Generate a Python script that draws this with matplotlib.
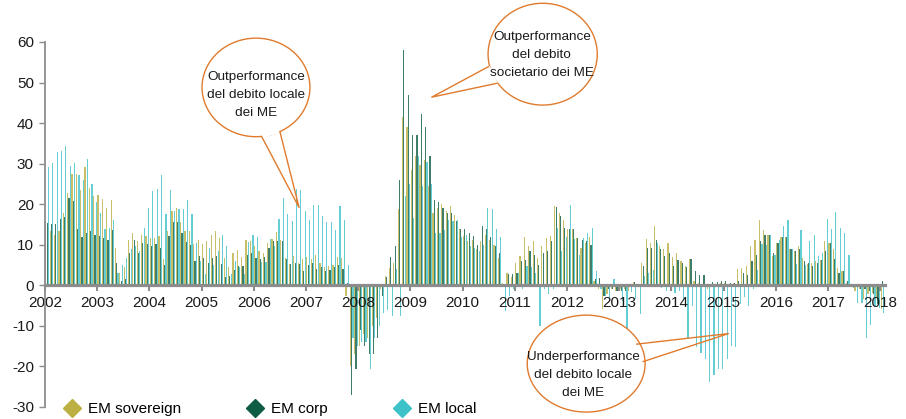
import numpy as np
import matplotlib
matplotlib.use("Agg")
import matplotlib.pyplot as plt
from matplotlib.patches import Ellipse
from matplotlib.lines import Line2D

plt.rcParams['font.family'] = ['Liberation Sans', 'DejaVu Sans']
plt.rcParams['axes.unicode_minus'] = False

# monthly values, Jan 2002 .. Jan 2018 (one row per year)
em_sovereign = [
    15.4, 13.4, 12.5, 13.4, 17.9, 22.8, 27.5, 27.5, 23.4, 29.3, 24.0, 22.0,   # 2002
    22.2, 21.4, 19.1, 21.1, 9.3, 3.1, 4.6, 11.3, 13.0, 10.9, 12.5, 12.1,      # 2003
    11.7, 11.7, 12.1, 6.5, 13.5, 18.4, 19.1, 15.5, 13.4, 13.4, 10.1, 11.1,    # 2004
    10.1, 10.9, 12.5, 13.4, 11.7, 6.8, 4.6, 7.9, 8.6, 7.0, 11.3, 10.9,        # 2005
    9.8, 8.4, 7.9, 10.5, 11.5, 13.1, 11.3, 6.8, 5.2, 7.2, 5.6, 6.4,           # 2006
    7.0, 6.5, 7.5, 5.5, 4.5, 4.7, 4.9, 7.0, 6.7, -2.6, -20.0, -17.0,          # 2007
    -15.0, -12.0, -13.0, -10.0, -8.0, -1.0, 2.3, 4.3, 5.6, 18.7, 41.6, 39.0,  # 2008
    28.5, 31.8, 29.7, 31.0, 24.4, 17.9, 19.0, 20.0, 18.3, 19.5, 17.4, 13.8,   # 2009
    12.1, 11.0, 11.3, 9.0, 11.0, 12.5, 11.3, 10.0, 6.8, 0.6, 3.1, 2.0,        # 2010
    5.6, 7.2, 12.0, 9.7, 10.9, 6.8, 9.7, 11.7, 12.1, 19.5, 17.9, 16.2,        # 2011
    14.0, 13.8, 11.7, 9.3, 10.5, 12.0, 1.0, -1.0, -5.9, -2.2, -1.0, -1.4,     # 2012
    -1.0, -1.0, -1.4, 0.7, -0.5, 5.6, 11.5, 10.5, 14.6, 9.7, 9.0, 10.5,       # 2013
    7.0, 8.0, 6.0, 4.8, 6.4, 1.0, 0.5, -0.5, -1.0, -0.5, 0.0, 0.5,            # 2014
    0.5, 0.0, 0.5, 4.1, 4.3, 4.8, 9.7, 11.3, 16.2, 13.6, 12.5, 7.2,           # 2015
    10.5, 12.0, 12.0, 9.0, 8.4, 9.7, 6.8, 5.2, 5.6, 6.0, 6.2, 10.9,           # 2016
    10.5, 8.9, 4.3, 3.5, 0.5, -0.5, -1.4, -1.0, -3.4, -2.2, -1.8, -3.0,       # 2017
    -5.9,                                                                      # 2018
]
em_corp = [
    15.4, 15.2, 15.0, 16.4, 16.9, 21.6, 20.9, 13.8, 11.9, 12.8, 13.4, 12.3,
    12.1, 11.7, 11.1, 13.6, 5.6, 1.1, 1.6, 7.9, 11.1, 7.9, 10.5, 10.1,
    9.8, 10.3, 9.1, 4.9, 12.1, 15.6, 15.6, 12.8, 10.7, 10.0, 6.1, 7.2,
    6.8, 5.6, 6.8, 7.2, 5.2, 2.0, 2.3, 3.9, 4.8, 4.8, 7.6, 8.0,
    6.8, 6.4, 7.0, 9.3, 10.9, 10.9, 10.9, 6.4, 5.2, 5.6, 5.2, 3.5,
    5.0, 5.5, 4.0, 4.5, 3.5, 3.8, 4.5, 5.0, 4.0, 0.5, -27.0, -20.6,
    -11.0, -15.0, -17.0, -17.0, -13.0, -2.6, 2.1, 7.0, 9.8, 26.0, 58.0, 47.0,
    37.0, 37.0, 42.3, 39.0, 32.0, 21.0, 20.6, 19.0, 17.9, 17.9, 15.8, 13.8,
    13.8, 13.0, 12.1, 10.0, 14.6, 13.9, 12.0, 9.7, 8.0, 0.0, 2.9, 2.7,
    3.1, 6.0, 6.2, 8.4, 7.4, 4.9, 8.0, 8.4, 10.9, 19.3, 17.0, 14.2,
    14.0, 13.8, 11.7, 11.3, 11.0, 10.0, 1.5, 1.7, -2.6, -1.0, -1.0, -1.4,
    -1.4, -1.4, -0.5, 0.7, -0.5, 4.8, 9.3, 9.3, 11.3, 8.9, 7.2, 8.0,
    4.8, 6.2, 5.4, 4.5, 6.4, 3.5, 2.5, 2.5, 0.0, 0.8, 0.8, 1.1,
    1.1, 0.5, 0.5, 1.0, 3.1, 2.5, 6.0, 7.6, 10.9, 12.5, 12.5, 8.0,
    10.5, 12.0, 12.0, 9.0, 8.4, 8.9, 6.0, 5.6, 4.8, 5.6, 6.2, 8.4,
    10.5, 6.4, 3.1, 3.5, 1.1, 0.0, -0.5, -1.0, -1.0, -1.4, -2.2, -4.7,
    1.1,
]
em_local = [
    29.1, 30.2, 32.9, 33.2, 34.3, 29.5, 30.2, 27.3, 25.9, 31.2, 25.1, 20.5,
    17.9, 13.8, 14.1, 16.2, 3.1, 5.0, 6.8, 8.9, 9.7, 8.4, 14.2, 19.1,
    23.2, 23.8, 27.1, 17.5, 23.4, 18.3, 18.7, 18.9, 21.1, 17.5, 10.5, 6.0,
    2.9, 9.1, 4.9, 8.4, 12.3, 9.7, 2.7, 6.0, 4.6, 2.9, 10.7, 12.3,
    12.0, 5.7, 5.7, 11.5, 9.7, 16.4, 21.6, 17.7, 15.8, 23.8, 23.6, 18.3,
    16.2, 19.7, 19.9, 17.0, 15.6, 15.6, 13.6, 19.5, 16.2, 4.9, -13.0, -15.0,
    -14.0, -14.0, -20.6, -13.0, -10.0, -6.7, -6.0, -7.5, 4.0, -7.5, 22.0, 25.0,
    16.7, 32.0, 24.4, 30.5, 25.0, 13.0, 13.0, 13.6, 16.2, 15.8, 16.2, 12.0,
    12.5, 9.7, 9.3, 8.4, 10.0, 19.0, 18.9, 13.8, 12.0, -6.3, -2.6, -1.0,
    3.1, -1.0, 4.8, 4.6, 3.1, -10.0, -1.0, -2.2, -1.0, 14.2, 8.4, 12.0,
    19.9, 11.5, 7.6, 11.7, 13.0, 14.2, 3.5, -1.0, -2.6, -3.4, 1.5, -1.0,
    -3.9, -10.8, -1.6, -3.4, -7.1, 2.3, 3.0, 3.9, 10.5, -0.6, -1.4, -0.6,
    -2.0, -1.4, -3.4, -13.3, -5.0, -15.3, -16.6, -18.2, -23.9, -22.1, -20.7, -20.7,
    -18.2, -14.9, -15.3, -4.5, -3.0, -5.0, -1.0, 3.9, 10.1, 10.0, 12.5, 7.5,
    11.3, 14.6, 16.2, 9.0, 5.2, 13.6, 5.0, 10.9, 12.3, 7.2, 8.0, 16.4,
    13.8, 18.0, 14.2, 13.0, 7.6, -0.6, -4.3, -4.3, -12.9, -9.8, -5.0, -5.5,
    -6.7,
]
years = list(range(2002, 2019))
series_names = ['EM sovereign', 'EM corp', 'EM local']
colors = ['#BDB043', '#0E5C44', '#3EC2CA']

fig = plt.figure(figsize=(9.06, 4.19), dpi=100)
ax = fig.add_axes([45 / 906, 12 / 419, 839.6 / 906, 365 / 419])

n = len(em_local)
x = np.arange(n) + 0.5
w = 0.3
for off, vals, c in zip([-w, 0, w], [em_sovereign, em_corp, em_local], colors):
    ax.bar(x + off, vals, width=w * 0.9, color=c, alpha=0.8, linewidth=0, zorder=1)

ax.set_xlim(0, n)
ax.set_ylim(-30, 60)
for s in ['top', 'right']:
    ax.spines[s].set_visible(False)
ax.spines['left'].set_color('#8c8c8c')
ax.spines['left'].set_linewidth(1.3)
ax.spines['bottom'].set_position(('data', 0))
ax.spines['bottom'].set_color('#8c8c8c')
ax.spines['bottom'].set_linewidth(2.3)

ax.set_yticks(range(-30, 61, 10))
ax.set_xticks([12 * i for i in range(len(years))])
ax.set_xticklabels([str(y) for y in years])
ax.tick_params(axis='y', length=4, width=1, color='#8c8c8c', pad=4,
               labelsize=11, labelcolor='#1a1a1a')
ax.tick_params(axis='x', length=4, width=1.5, color='#8c8c8c', pad=4,
               labelsize=11, labelcolor='#1a1a1a')

# callouts (data coords)
orange = '#E07B2E'
callouts = [
    ((48.5, 48.8), 24.8, 24.3, (49.8, 36.7), (54.0, 37.9), (58.4, 19.2),
     (48.5, 46.9), 'Outperformance\ndel debito locale\ndei ME'),
    ((114.4, 57.0), 25.1, 25.1, (101.9, 53.9), (103.8, 49.8), (88.9, 46.4),
     (114.2, 56.8), 'Outperformance\ndel debito\nsocietario dei ME'),
    ((124.4, -19.3), 27.1, 23.9, (136.0, -14.5), (137.5, -18.8), (157.1, -11.9),
     (123.7, -22.1), 'Underperformance\ndel debito locale\ndei ME'),
]
for cen, ew, eh, b1, b2, tip, tpos, txt in callouts:
    ax.add_patch(Ellipse(cen, ew, eh, facecolor='white', edgecolor=orange,
                         linewidth=1.0, zorder=5, clip_on=False))
    ax.plot([b1[0], b2[0]], [b1[1], b2[1]], color='white', lw=2.2, zorder=5.5,
            clip_on=False, solid_capstyle='butt')
    ax.plot([b1[0], tip[0], b2[0]], [b1[1], tip[1], b2[1]], color=orange,
            lw=1.0, zorder=6, clip_on=False)
    ax.text(tpos[0], tpos[1], txt, ha='center', va='center', fontsize=9.7,
            linespacing=1.65, color='#1a1a1a', zorder=7)

handles = [Line2D([], [], marker='D', ls='none', color=c, mec=c, ms=9.5)
           for c in colors]
fig.legend(handles, series_names, loc='center left',
           bbox_to_anchor=(64.4 / 906, 1 - 409 / 419), ncol=3, frameon=False,
           fontsize=11, handlelength=1.0, handletextpad=0.55,
           columnspacing=4.35, borderpad=0, borderaxespad=0)

fig.savefig('out.png', dpi=100, facecolor='white')
